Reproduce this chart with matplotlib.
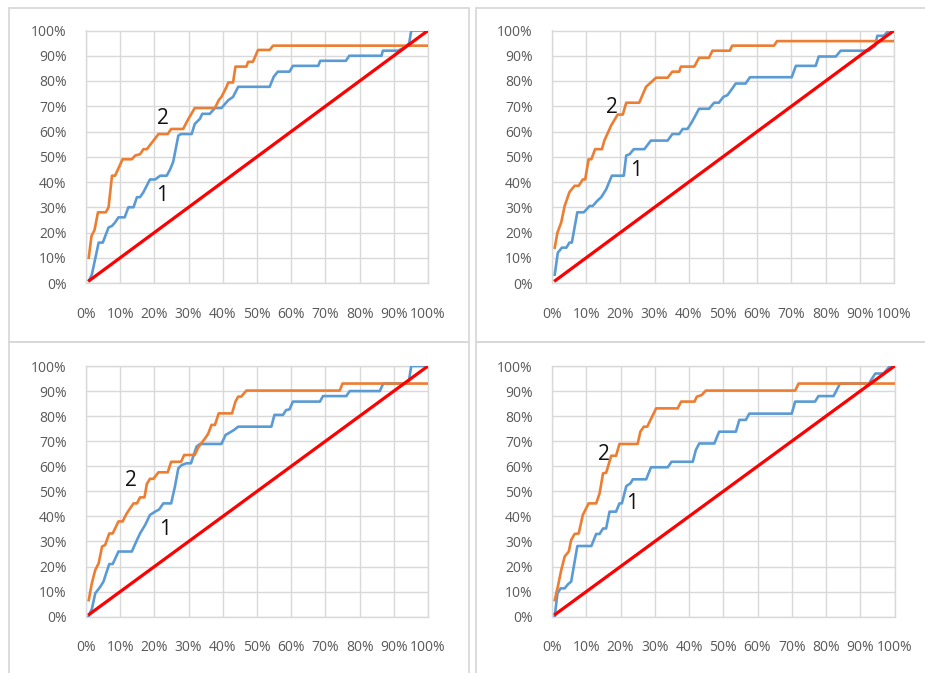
import matplotlib
matplotlib.use("Agg")
import matplotlib.pyplot as plt
from matplotlib.patches import Rectangle

plt.rcParams['font.family'] = ['Open Sans', 'DejaVu Sans']

# values, in percent
ticks = [0, 10, 20, 30, 40, 50, 60, 70, 80, 90, 100]
tick_labels = [f"{t}%" for t in ticks]

red_x = [1, 25, 50, 75, 100]
red_y = [1, 25, 50, 75, 100]

# top left
tl_orange_x = [0.8, 1.6, 2.5, 3.5, 5.8, 6.6, 7.6, 8.5, 10.7, 13.4, 14.4, 15.8, 16.8, 17.8, 21.2, 23.9, 24.9,
               28.4, 29.7, 31.8, 37.7, 38.8, 39.6, 41.1, 41.6, 43.0, 43.7, 46.9, 47.4, 48.8, 50.3, 53.7, 54.7, 100]
tl_orange_y = [10, 18.6, 21, 28, 28, 30, 42.5, 42.5, 49, 49, 50.5, 51, 53, 53, 59, 59, 61,
               61, 64.4, 69.3, 69.3, 72.4, 73.7, 77.7, 79.4, 79.4, 85.7, 85.7, 87.6, 87.6, 92.3, 92.3, 94, 94]
tl_blue_x = [1, 1.7, 3.7, 4.9, 6.6, 7.6, 8.5, 9.5, 11.3, 12.4, 13.9, 14.9, 15.8, 16.8, 18.7, 20.2, 21.7, 23.6,
             24.6, 25.5, 27, 27.8, 30.9, 31.8, 33.3, 34, 36.2, 37.7, 39.6, 41.6, 43, 44.5, 53.7, 54.9, 56.1,
             59.5, 60.5, 67.9, 68.5, 76, 77, 86.4, 86.8, 91.2, 93.5, 94.5, 95.1, 100]
tl_blue_y = [1.3, 3.3, 16, 16, 22, 22.6, 24, 26, 26, 30, 30, 34, 34, 36, 41, 41, 42.5, 42.5,
             45, 48, 58.4, 59, 59, 63, 65, 67, 67, 69.3, 69.3, 72.4, 73.7, 77.7, 77.7, 81.7, 83.7,
             83.7, 86, 86, 88, 88, 90, 90, 92, 92, 93.5, 95, 100, 100]

# top right
tr_orange_x = [0.8, 1.6, 2.7, 3.7, 5.1, 6.6, 7.8, 9.0, 9.7, 10.7, 11.5, 12.6, 14.6, 15.3, 17.3, 19.2, 20.7,
               21.7, 25.5, 27.5, 28.9, 30.4, 33.8, 35.2, 37.2, 37.7, 41.6, 43.0, 45.9, 46.9, 52.0, 52.7,
               64.9, 65.8, 100]
tr_orange_y = [14, 20, 24, 30.5, 36, 38.5, 38.5, 41, 41, 49, 49, 53, 53, 56.4, 62.4, 66.7, 66.7,
               71.4, 71.4, 77.7, 79.4, 81.3, 81.3, 83.7, 83.7, 85.7, 85.7, 89.2, 89.2, 92, 92, 94,
               94, 95.8, 95.8]
tr_blue_x = [0.8, 1.7, 2.9, 4.2, 5.1, 5.8, 7.4, 9.3, 11.0, 11.9, 13.2, 14.4, 15.8, 17.5, 21.0, 21.7, 22.7,
             23.9, 27.0, 28.9, 33.8, 35.2, 37.2, 38.2, 39.6, 40.8, 43.0, 45.9, 47.4, 48.8, 50.1, 51.3,
             52.7, 53.7, 56.6, 57.9, 70.1, 71.3, 77.1, 78.0, 83.0, 84.4, 92.7, 94.5, 95.1, 97.0, 98.5, 100]
tr_blue_y = [3.3, 12, 14, 14, 16, 16, 28, 28, 30.5, 30.5, 32.5, 34, 37, 42.5, 42.5, 50.5, 51,
             53, 53, 56.4, 56.4, 59, 59, 61, 61, 63.5, 69, 69, 71.4, 71.4, 73.7, 74.4,
             77, 79, 79, 81.5, 81.5, 86, 86, 89.7, 89.7, 92, 92, 94, 97.9, 97.9, 100, 100]

# bottom left
bl_orange_x = [0.8, 1.7, 2.7, 3.7, 4.7, 5.6, 6.8, 7.8, 9.5, 10.7, 11.9, 13.9, 14.9, 15.8, 17.1, 17.8, 18.7,
               19.7, 21.2, 23.9, 24.9, 27.8, 28.7, 31.8, 32.8, 34.8, 35.7, 36.7, 37.7, 38.8, 42.7, 43.7,
               44.5, 45.4, 46.9, 74.2, 75.0, 100]
bl_orange_y = [6.6, 13.3, 18.6, 21.3, 28, 28.6, 33.2, 33.2, 38, 38, 41.2, 45.2, 45.2, 47.6, 47.6, 53, 55,
               55, 57.6, 57.6, 61.8, 61.8, 64.5, 64.5, 67.5, 71.1, 72.9, 76.5, 76.5, 81.1, 81.1, 85.8,
               87.8, 87.8, 90.2, 90.2, 93, 93]
bl_blue_x = [0.8, 1.7, 2.7, 4.2, 5.1, 6.8, 7.8, 9.5, 13.4, 14.9, 15.8, 17.3, 18.7, 20.2, 21.4, 22.6, 24.9,
             26.0, 27.0, 28.0, 29.4, 30.7, 32.3, 33.3, 39.6, 40.8, 41.6, 43.3, 44.5, 54.2, 55.1, 57.6,
             58.5, 59.5, 60.5, 68.4, 69.3, 76.1, 77.1, 85.9, 86.9, 94.3, 95.1, 100]
bl_blue_y = [0.3, 3, 9.3, 12, 14, 21, 21, 26, 26, 30.6, 33.2, 36.6, 40.6, 41.9, 42.8, 45.2, 45.2,
             51.9, 59.2, 60.5, 61.2, 61.2, 67.8, 68.9, 68.9, 72.5, 73.1, 74.5, 75.8, 75.8, 80.5, 80.5,
             82.4, 82.7, 85.8, 85.8, 88, 88, 90, 90, 93, 93, 100, 100]

# bottom right
br_orange_x = [0.8, 1.7, 2.7, 3.7, 4.9, 5.6, 6.6, 7.8, 9.0, 10.7, 12.9, 13.9, 14.9, 15.8, 17.3, 18.7,
               19.7, 25.0, 25.8, 26.8, 27.8, 30.4, 36.7, 37.7, 41.6, 42.3, 43.7, 44.9, 71.0, 72.0, 100]
br_orange_y = [6.6, 12, 18.6, 24, 26, 30.6, 33, 33.2, 40.6, 45.2, 45.2, 49.2, 57.2, 57.4, 64.2, 64.2,
               68.9, 68.9, 73.8, 75.8, 75.8, 83.1, 83.1, 85.8, 85.8, 87.8, 88.4, 90.2, 90.2, 93, 93]
br_blue_x = [0.8, 1.6, 2.5, 3.7, 4.7, 5.6, 7.4, 11.5, 12.9, 13.9, 14.9, 15.8, 16.8, 18.7, 19.7, 20.4,
             21.7, 22.9, 23.6, 27.5, 28.9, 33.8, 34.9, 41.1, 42.0, 43.0, 47.4, 48.8, 53.7, 54.7, 56.6,
             57.6, 70.0, 71.0, 76.8, 77.8, 82.2, 84.1, 92.5, 94.4, 96.8, 98.7, 100]
br_blue_y = [0.3, 9.3, 11.3, 11.3, 13, 14, 28.2, 28.2, 33, 33, 35.2, 35.2, 41.9, 41.9, 45.2, 45.2,
             52.1, 53.2, 54.8, 54.8, 59.6, 59.6, 61.8, 61.8, 66.5, 69.1, 69.1, 73.8, 73.8, 78.5, 78.5,
             81, 81, 85.8, 85.8, 88, 88, 93, 93, 97, 97, 100, 100]

# label positions for the "2" and "1" marks
tl_labels = [(22.6, 65.2), (22.3, 34.8)]
tr_labels = [(17.5, 69.6), (24.5, 44.7)]
bl_labels = [(13.0, 54.5), (23.1, 34.6)]
br_labels = [(15.1, 64.5), (23.5, 45.2)]

W, H = 925, 673
fig = plt.figure(figsize=(W / 100, H / 100), dpi=100)

# chart frames like the spreadsheet objects
frame = '#d9d9d9'
for x0, y0, x1, y1 in [(9, 8, 469, 342), (476, 8, 935, 342), (9, 342, 469, 690), (476, 342, 935, 690)]:
    fig.add_artist(Rectangle((x0 / W, 1 - y1 / H), (x1 - x0) / W, (y1 - y0) / H,
                             transform=fig.transFigure, fill=False, edgecolor=frame, lw=1.3))

panels = [
    ((86, 30.5, 428, 283), tl_blue_x, tl_blue_y, tl_orange_x, tl_orange_y, tl_labels),
    ((552, 30.5, 894, 283), tr_blue_x, tr_blue_y, tr_orange_x, tr_orange_y, tr_labels),
    ((86, 366, 428, 616.7), bl_blue_x, bl_blue_y, bl_orange_x, bl_orange_y, bl_labels),
    ((552, 366, 894.5, 616.7), br_blue_x, br_blue_y, br_orange_x, br_orange_y, br_labels),
]

for (l, t, r, b), bx, by, ox, oy, labs in panels:
    ax = fig.add_axes([l / W, 1 - b / H, (r - l) / W, (b - t) / H])
    ax.plot(bx, by, color='#5b9bd5', lw=1.9, zorder=3)
    ax.plot(ox, oy, color='#ed7d31', lw=1.9, zorder=3)
    ax.plot(red_x, red_y, color='#ff0000', lw=2.3, zorder=4)
    ax.text(labs[0][0], labs[0][1], '2', fontsize=15, color='#111111', ha='center', va='center', zorder=5)
    ax.text(labs[1][0], labs[1][1], '1', fontsize=15, color='#111111', ha='center', va='center', zorder=5)
    ax.set_xlim(0, 100)
    ax.set_ylim(0, 100)
    ax.set_xticks(ticks)
    ax.set_yticks(ticks)
    ax.set_xticklabels(tick_labels)
    ax.set_yticklabels(tick_labels)
    ax.grid(True, color='#d9d9d9', lw=1.0)
    ax.set_axisbelow(True)
    for s in ax.spines.values():
        s.set_color('#d9d9d9')
        s.set_linewidth(1.0)
    ax.tick_params(length=0, labelsize=10, labelcolor='#595959')
    ax.tick_params(axis='x', pad=17)
    ax.tick_params(axis='y', pad=14)

fig.savefig('out.png', dpi=100)
